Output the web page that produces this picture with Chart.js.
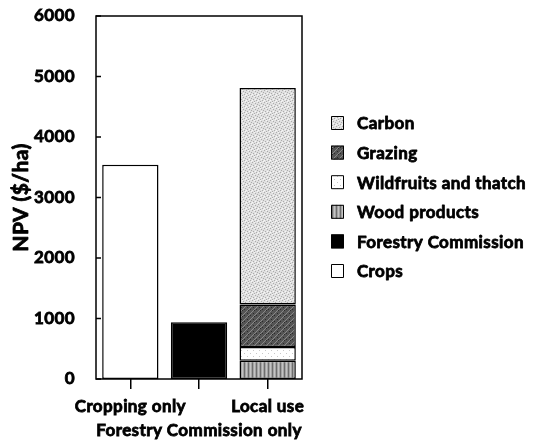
<!DOCTYPE html>
<html>
<head>
<meta charset="utf-8">
<script src="https://cdn.jsdelivr.net/npm/chart.js@4"></script>
<style>
  body { margin: 0; background: #fff; }
  canvas { display: block; }
</style>
</head>
<body>
<canvas id="chart" width="537" height="445"></canvas>
<script>
// data
const categories = ['Cropping only', 'Forestry Commission only', 'Local use'];
const crops = [3540, null, null];
const forestryCommission = [null, 940, null];
const woodProducts = [null, null, 300];
const wildfruits = [null, null, 230];
const grazing = [null, null, 700];
const carbon = [null, null, 3580];
const yTicks = [0, 1000, 2000, 3000, 4000, 5000, 6000];
const yTitle = 'NPV ($/ha)';

const FONT = 'Lato, "DejaVu Sans", sans-serif';
const STROKE = 0.8; // thickens the bold face a little

// small textured tiles, like the print hatching
function tile(size, bg, draw) {
    const c = document.createElement('canvas');
    c.width = size; c.height = size;
    const g = c.getContext('2d');
    g.fillStyle = bg;
    g.fillRect(0, 0, size, size);
    draw(g);
    return document.createElement('canvas').getContext('2d').createPattern(c, 'repeat');
}

const dots = (g, color, pts) => {
    g.fillStyle = color;
    pts.forEach(p => g.fillRect(p[0], p[1], 1, 1));
};

const carbonFill = tile(6, '#e0e0e0', g => {
    dots(g, '#ababab', [[0, 0], [3, 1], [1, 3], [4, 4], [5, 2], [2, 5]]);
    dots(g, '#f6f6f6', [[2, 0], [5, 5], [0, 4], [3, 3]]);
});
const grazingFill = tile(6, '#555', g => {
    g.strokeStyle = '#888';
    g.lineWidth = 1;
    g.beginPath();
    g.moveTo(0, 6); g.lineTo(6, 0);
    g.moveTo(-3, 3); g.lineTo(3, -3);
    g.stroke();
    dots(g, '#2a2a2a', [[1, 1], [4, 3], [2, 4]]);
});
const wildfruitsFill = tile(6, '#ffffff', g => {
    dots(g, '#c8c8c8', [[1, 2], [4, 5]]);
});
const woodFill = tile(4, '#a4a4a4', g => {
    g.fillStyle = '#6e6e6e';
    g.fillRect(0, 0, 1, 4);
    g.fillStyle = '#c4c4c4';
    g.fillRect(2, 0, 1, 4);
});

const labels = categories.map((c, i) => i % 2 ? ['', c] : [c, '']);

function series(label, data, fill) {
    return {
        label: label,
        data: data,
        backgroundColor: fill,
        borderColor: '#000',
        borderWidth: 1.5,
        borderSkipped: false
    };
}

const datasets = [
    series('Crops', crops, '#ffffff'),
    series('Forestry Commission', forestryCommission, '#000000'),
    series('Wood products', woodProducts, woodFill),
    series('Wildfruits and thatch', wildfruits, wildfruitsFill),
    series('Grazing', grazing, grazingFill),
    series('Carbon', carbon, carbonFill)
];

function boldText(ctx, text, x, y) {
    ctx.fillText(text, x, y);
    ctx.strokeText(text, x, y);
}

// frame, inward y ticks, axis title and the legend at the right
const framePlugin = {
    id: 'frame',
    beforeDraw(chart) {
        chart.ctx.letterSpacing = '0.4px';
    },
    afterDatasetsDraw(chart) {
        const ctx = chart.ctx;
        const a = chart.chartArea;
        const y = chart.scales.y;
        ctx.save();
        ctx.strokeStyle = '#000';
        ctx.lineWidth = 1.5;
        ctx.strokeRect(a.left, a.top, a.right - a.left, a.bottom - a.top);
        ctx.beginPath();
        y.ticks.forEach(t => {
            const py = y.getPixelForValue(t.value);
            ctx.moveTo(a.left, py);
            ctx.lineTo(a.left + 5, py);
        });
        ctx.stroke();

        ctx.fillStyle = '#000';
        ctx.lineWidth = STROKE;
        ctx.lineJoin = 'round';
        ctx.textAlign = 'center';
        ctx.textBaseline = 'middle';
        ctx.font = 'bold 21px ' + FONT;
        ctx.save();
        ctx.translate(a.left - 75, (a.top + a.bottom) / 2);
        ctx.rotate(-Math.PI / 2);
        boldText(ctx, yTitle, 0, 0);
        ctx.restore();

        const items = chart.data.datasets.slice().reverse();
        const x0 = a.right + 29;
        const y0 = a.top + 107;
        ctx.font = 'bold 17px ' + FONT;
        ctx.textAlign = 'left';
        items.forEach((ds, i) => {
            const cy = y0 + i * 29.6;
            ctx.fillStyle = ds.backgroundColor;
            ctx.fillRect(x0, cy - 7, 13, 14);
            ctx.lineWidth = 1;
            ctx.strokeRect(x0 + 0.5, cy - 6.5, 12, 13);
            ctx.fillStyle = '#000';
            ctx.lineWidth = STROKE;
            boldText(ctx, ds.label, x0 + 26, cy + 1);
        });
        ctx.restore();
    }
};

const tickFont = { family: FONT, size: 17, weight: 'bold', lineHeight: 1.4 };

new Chart(document.getElementById('chart'), {
    type: 'bar',
    data: { labels: labels, datasets: datasets },
    plugins: [framePlugin],
    options: {
        responsive: false,
        animation: false,
        layout: { padding: { top: 16, right: 235, left: 0, bottom: 0 } },
        plugins: {
            legend: { display: false },
            tooltip: { enabled: false }
        },
        datasets: { bar: { barPercentage: 0.82, categoryPercentage: 1 } },
        scales: {
            x: {
                stacked: true,
                afterFit: s => { s.height = 66; s.paddingLeft = 0; s.paddingRight = 0; },
                grid: {
                    display: true,
                    drawOnChartArea: false,
                    offset: false,
                    color: '#000',
                    lineWidth: 1.5,
                    tickLength: 10
                },
                border: { display: false },
                ticks: {
                    autoSkip: false,
                    maxRotation: 0,
                    minRotation: 0,
                    padding: 6,
                    color: '#000',
                    textStrokeColor: '#000',
                    textStrokeWidth: STROKE,
                    font: tickFont
                }
            },
            y: {
                stacked: true,
                min: 0,
                max: 6000,
                afterFit: s => { s.width = 96; s.paddingTop = 0; s.paddingBottom = 0; },
                afterBuildTicks: s => { s.ticks = yTicks.map(v => ({ value: v })); },
                grid: { display: false },
                border: { display: false },
                ticks: {
                    padding: 13,
                    color: '#000',
                    textStrokeColor: '#000',
                    textStrokeWidth: STROKE,
                    callback: v => String(v),
                    font: { family: FONT, size: 17, weight: 'bold' }
                }
            }
        }
    }
});
</script>
</body>
</html>
